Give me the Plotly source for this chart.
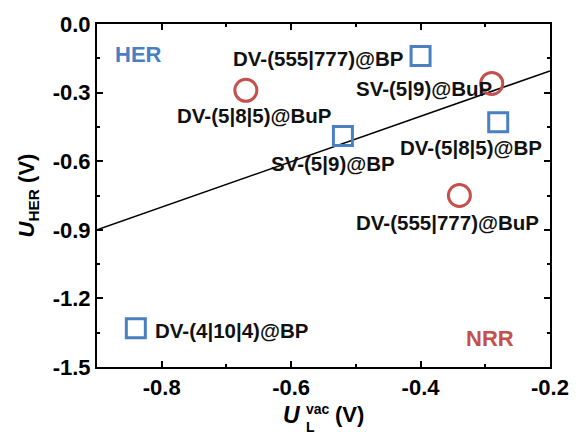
import plotly.graph_objects as go

# Data
bp_names = ["DV-(555|777)@BP", "DV-(5|8|5)@BP", "SV-(5|9)@BP", "DV-(4|10|4)@BP"]
bp_x = [-0.40, -0.28, -0.52, -0.84]
bp_y = [-0.14, -0.43, -0.49, -1.33]

bup_names = ["DV-(5|8|5)@BuP", "SV-(5|9)@BuP", "DV-(555|777)@BuP"]
bup_x = [-0.67, -0.29, -0.34]
bup_y = [-0.29, -0.26, -0.75]

fit_x = [-0.9, -0.2]
fit_y = [-0.90, -0.205]

# label placement (data coordinates) for each point label
bp_lab_x = [-0.424, -0.322, -0.536, -0.814]
bp_lab_y = [-0.153, -0.54, -0.61, -1.339]
bp_lab_anchor = ["right", "center", "center", "left"]
bup_lab_x = [-0.657, -0.395, -0.359]
bup_lab_y = [-0.401, -0.283, -0.868]

BLUE = "#4A80C2"
RED = "#C5504B"
FONT = "Liberation Sans, Arial, sans-serif"
LAB = 20.5

fig = go.Figure()
fig.add_trace(go.Scatter(x=fit_x, y=fit_y, mode="lines",
                         line=dict(color="black", width=1.5), showlegend=False))
fig.add_trace(go.Scatter(x=bp_x, y=bp_y, mode="markers",
                         marker=dict(symbol="square-open", size=19, color=BLUE,
                                     line=dict(width=3, color=BLUE)),
                         showlegend=False))
fig.add_trace(go.Scatter(x=bup_x, y=bup_y, mode="markers",
                         marker=dict(symbol="circle-open", size=22, color=RED,
                                     line=dict(width=3, color=RED)),
                         showlegend=False))

for n, x, y, a in zip(bp_names, bp_lab_x, bp_lab_y, bp_lab_anchor):
    fig.add_annotation(x=x, y=y, text="<b>" + n + "</b>", showarrow=False, xanchor=a, yanchor="middle",
                       font=dict(family=FONT, size=LAB, color="#111"))
for n, x, y in zip(bup_names, bup_lab_x, bup_lab_y):
    fig.add_annotation(x=x, y=y, text="<b>" + n + "</b>", showarrow=False, xanchor="center", yanchor="middle",
                       font=dict(family=FONT, size=LAB, color="#111"))

fig.add_annotation(x=-0.876, y=-0.135, text="<b>HER</b>", showarrow=False, xanchor="left",
                   yanchor="middle", font=dict(family=FONT, size=22, color=BLUE))
fig.add_annotation(x=-0.333, y=-1.374, text="<b>NRR</b>", showarrow=False, xanchor="left",
                   yanchor="middle", font=dict(family=FONT, size=22, color=RED))

# x-axis title with stacked sub/superscript (paper coords)
def px(p):
    return (p - 97) / 458.0

def py(p):
    return (367 - p) / 344.0

fig.add_annotation(xref="paper", yref="paper", x=px(305), y=py(415), xanchor="right", yanchor="middle",
                   text="<b><i>U</i></b>", showarrow=False,
                   font=dict(family=FONT, size=23, color="black"))
fig.add_annotation(xref="paper", yref="paper", x=px(306), y=py(409), xanchor="left", yanchor="middle",
                   text="<b>vac</b>", showarrow=False,
                   font=dict(family=FONT, size=14, color="black"))
fig.add_annotation(xref="paper", yref="paper", x=px(306), y=py(427), xanchor="left", yanchor="middle",
                   text="<b>L</b>", showarrow=False,
                   font=dict(family=FONT, size=14, color="black"))
fig.add_annotation(xref="paper", yref="paper", x=px(336), y=py(415), xanchor="left", yanchor="middle",
                   text="<b>(V)</b>", showarrow=False,
                   font=dict(family=FONT, size=22, color="black"))

axis_common = dict(showgrid=False, zeroline=False, showline=True, linecolor="black", linewidth=2,
                   mirror="ticks", ticks="inside", tickwidth=1.5, ticklen=6, tickcolor="black",
                   tickfont=dict(family=FONT, size=22, color="black"))

fig.update_xaxes(range=[-0.9, -0.2], tickvals=[-0.8, -0.6, -0.4, -0.2],
                 ticktext=["<b>-0.8</b>", "<b>-0.6</b>", "<b>-0.4</b>", "<b>-0.2</b>"],
                 minor=dict(dtick=0.1, tick0=-0.9, ticks="inside", ticklen=3, tickwidth=1.5, tickcolor="black"),
                 **axis_common)
fig.update_yaxes(range=[-1.5, 0.0], tickvals=[0.0, -0.3, -0.6, -0.9, -1.2, -1.5],
                 ticktext=["<b>0.0</b>", "<b>-0.3</b>", "<b>-0.6</b>", "<b>-0.9</b>", "<b>-1.2</b>", "<b>-1.5</b>"],
                 minor=dict(dtick=0.15, tick0=0, ticks="inside", ticklen=3, tickwidth=1.5, tickcolor="black"),
                 title=dict(text="<b><i>U</i><sub>HER</sub> (V)</b>", font=dict(family=FONT, size=22, color="black"),
                            standoff=12),
                 **axis_common)

fig.update_layout(width=581, height=434, margin=dict(l=97, r=26, t=23, b=67),
                  plot_bgcolor="white", paper_bgcolor="white")

fig.write_html("out.html")
